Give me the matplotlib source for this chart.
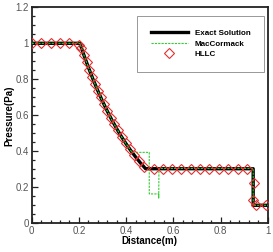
import matplotlib
matplotlib.use("Agg")
import matplotlib.pyplot as plt
from matplotlib.ticker import MultipleLocator, FormatStrFormatter

# exact Riemann solution (Sod tube, t = 0.25)
x_exact = [0.0, 0.2042, 0.22, 0.24, 0.26, 0.28, 0.30, 0.32, 0.34, 0.36, 0.38,
           0.40, 0.42, 0.44, 0.46, 0.4825, 0.938, 0.938, 1.0]
p_exact = [1.0, 1.0, 0.939, 0.867, 0.7996, 0.7367, 0.6782, 0.6236, 0.5728, 0.5257,
           0.4818, 0.4412, 0.4035, 0.3687, 0.3364, 0.3031, 0.3031, 0.1, 0.1]

# MacCormack scheme
x_mac = [0.0, 0.2042, 0.22, 0.24, 0.26, 0.28, 0.30, 0.32, 0.34, 0.36, 0.38,
         0.40, 0.42, 0.426, 0.498, 0.498, 0.538, 0.538, 0.539, 0.938, 0.938, 1.0]
p_mac = [1.0, 1.0, 0.939, 0.867, 0.7996, 0.7367, 0.6782, 0.6236, 0.5728, 0.5257,
         0.4818, 0.4412, 0.4035, 0.394, 0.394, 0.163, 0.163, 0.14, 0.305, 0.305,
         0.1, 0.1]

# HLLC scheme (symbols)
x_hllc = [0.0, 0.04, 0.08, 0.12, 0.16, 0.2, 0.2107, 0.2215, 0.2325, 0.244, 0.2555,
          0.2675, 0.28, 0.2925, 0.306, 0.3195, 0.334, 0.349, 0.3645, 0.381, 0.398,
          0.416, 0.435, 0.455, 0.476, 0.516, 0.555, 0.594, 0.634, 0.674, 0.713,
          0.753, 0.793, 0.833, 0.872, 0.911, 0.942, 0.939, 0.951, 0.992]
p_hllc = [1.0, 1.0, 1.0, 1.0, 1.0, 0.99, 0.9746, 0.9337, 0.8935, 0.8532, 0.8144,
          0.7755, 0.7367, 0.6996, 0.6613, 0.6249, 0.5877, 0.5511, 0.5155, 0.4797,
          0.4451, 0.4109, 0.3771, 0.3442, 0.313, 0.303, 0.303, 0.303, 0.303, 0.303,
          0.303, 0.303, 0.303, 0.303, 0.303, 0.303, 0.222, 0.13, 0.1, 0.1]

plt.rcParams['font.family'] = ['Liberation Sans', 'DejaVu Sans']

fig = plt.figure(figsize=(2.73, 2.52), dpi=100)
ax = fig.add_axes([0.116, 0.114, 0.865, 0.857])

ax.plot(x_exact, p_exact, color='black', lw=2.4, label='Exact Solution', zorder=2)
ax.plot(x_mac, p_mac, color='#33cc33', lw=0.8, ls=(0, (2, 1)), label='MacCormack', zorder=3)
ax.plot(x_hllc, p_hllc, ls='none', marker='D', ms=4.8, mfc='none', mec='#e03030',
        mew=0.8, label='HLLC', zorder=4)

ax.set_xlim(0, 1)
ax.set_ylim(0, 1.2)
ax.xaxis.set_major_locator(MultipleLocator(0.2))
ax.xaxis.set_minor_locator(MultipleLocator(0.04))
ax.yaxis.set_major_locator(MultipleLocator(0.2))
ax.yaxis.set_minor_locator(MultipleLocator(0.05))
ax.xaxis.set_major_formatter(FormatStrFormatter('%g'))
ax.yaxis.set_major_formatter(FormatStrFormatter('%g'))
ax.tick_params(which='both', direction='in', colors='#222222', labelcolor='#555555',
               labelsize=7, width=0.9)
ax.tick_params(which='major', length=4, pad=2)
ax.tick_params(which='minor', length=2)
for s in ax.spines.values():
    s.set_linewidth(1.3)
    s.set_color('#222222')

ax.set_xlabel('Distance(m)', fontsize=7, fontweight='bold', labelpad=0)
ax.set_ylabel('Pressure(Pa)', fontsize=7, fontweight='bold', labelpad=1)

leg = ax.legend(loc='upper left', bbox_to_anchor=(0.446, 0.96),
                prop={'weight': 'bold', 'size': 5.8}, fancybox=False, framealpha=1,
                edgecolor='#888888', handlelength=4.6, handletextpad=0.9,
                labelspacing=0.35, borderpad=1.7, borderaxespad=0)
leg.get_frame().set_linewidth(0.6)

fig.savefig('out.png', dpi=100)
